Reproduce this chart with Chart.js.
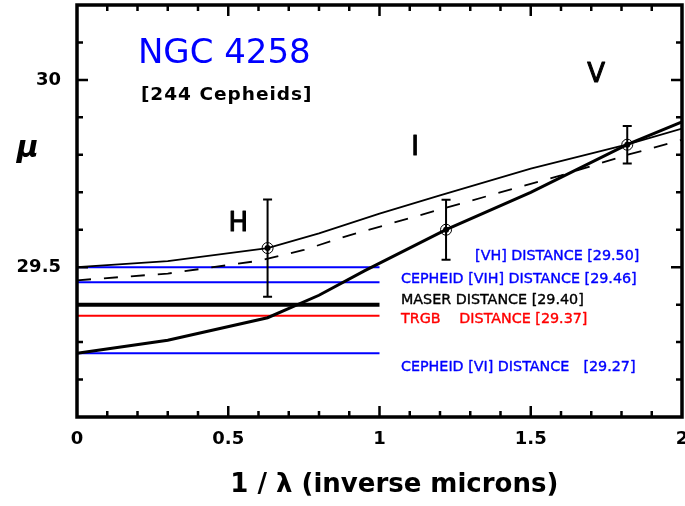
<!DOCTYPE html>
<html lang="en">
<head>
<meta charset="UTF-8">
<title>NGC 4258 distance modulus vs inverse wavelength</title>
<style>
  body { margin: 0; background: #fff; }
  #wrap { width: 685px; height: 506px; }
</style>
<script src="https://cdn.jsdelivr.net/npm/chart.js"></script>
</head>
<body>
<div id="wrap"><canvas id="muChart" width="685" height="506"></canvas></div>
<script>
// apparent distance modulus per band
const bandNames = ['H', 'I', 'V'];
const bandX = [0.630, 1.220, 1.819];
const bandMu = [29.551, 29.600, 29.827];
const bandErr = [0.13, 0.08, 0.05];

// extinction curves through the band points
const thinX = [0, 0.3, 0.63, 0.8, 1.0, 1.2, 1.5, 1.82, 2.0];
const thinMu = [29.500, 29.516, 29.551, 29.590, 29.643, 29.692, 29.763, 29.828, 29.870];

const dashX = [0, 0.3, 0.6, 0.75, 0.9, 1.3, 1.6, 1.82, 2.0];
const dashMu = [29.465, 29.483, 29.517, 29.546, 29.585, 29.677, 29.745, 29.800, 29.840];

const thickX = [0, 0.3, 0.63, 0.8, 0.95, 1.22, 1.5, 1.82, 2.0];
const thickMu = [29.270, 29.305, 29.365, 29.425, 29.490, 29.600, 29.700, 29.828, 29.888];

// distance estimates drawn as short horizontal lines
const distLabels = ['[VH] DISTANCE', 'CEPHEID [VIH] DISTANCE', 'MASER DISTANCE', 'TRGB DISTANCE', 'CEPHEID [VI] DISTANCE'];
const distMu = [29.50, 29.46, 29.40, 29.37, 29.27];
const distSpan = [0, 1];

// axes
const xTicks = [0, 0.5, 1, 1.5, 2];
const xTickLabels = ['0', '0.5', '1', '1.5', '2'];
const yTicks = [29.5, 30];
const yTickLabels = ['29.5', '30'];
const xTitle = '1 / λ (inverse microns)';
const yTitle = 'μ';

const BLUE = '#0000ff';
const RED = '#ff0000';
const FONT = '"DejaVu Sans", sans-serif';

const pts = (xs, ys) => xs.map((x, i) => ({ x: x, y: ys[i] }));

const distColors = [BLUE, BLUE, '#000', RED, BLUE];
const distWidths = [2, 2, 4, 2, 2];

// text drawn over the plot, placed in data units (y is the baseline)
const notes = [
  { text: 'NGC 4258', x: 0.487, y: 30.045, color: BLUE, size: 34, align: 'center' },
  { text: '[244 Cepheids]', x: 0.495, y: 29.947, color: '#000', size: 18.5, align: 'center', spacing: 1, style: 'bold' },
  { text: bandNames[0], x: 0.533, y: 29.596, color: '#000', size: 26, align: 'center', thicken: 1 },
  { text: bandNames[1], x: 1.118, y: 29.799, color: '#000', size: 26, align: 'center', thicken: 1 },
  { text: bandNames[2], x: 1.716, y: 29.995, color: '#000', size: 26, align: 'center', thicken: 1 },
  { text: '[VH] DISTANCE [' + distMu[0].toFixed(2) + ']', x: 1.316, y: 29.519, color: BLUE, size: 14.3, align: 'left', thicken: 0.4 },
  { text: 'CEPHEID [VIH] DISTANCE [' + distMu[1].toFixed(2) + ']', x: 1.071, y: 29.459, color: BLUE, size: 14.3, align: 'left', thicken: 0.4 },
  { text: 'MASER DISTANCE [' + distMu[2].toFixed(2) + ']', x: 1.071, y: 29.401, color: '#000', size: 14.3, align: 'left', thicken: 0.4 },
  { text: 'TRGB', x: 1.071, y: 29.350, color: RED, size: 14.3, align: 'left', thicken: 0.4 },
  { text: 'DISTANCE [' + distMu[3].toFixed(2) + ']', x: 1.264, y: 29.350, color: RED, size: 14.3, align: 'left', thicken: 0.4 },
  { text: 'CEPHEID [VI] DISTANCE', x: 1.071, y: 29.222, color: BLUE, size: 14.3, align: 'left', thicken: 0.4 },
  { text: '[' + distMu[4].toFixed(2) + ']', x: 1.674, y: 29.222, color: BLUE, size: 14.3, align: 'left', thicken: 0.4 },
  { text: yTitle, x: -0.163, y: 29.795, color: '#000', size: 30, align: 'center', style: 'italic bold' },
  { text: xTitle, x: 1.049, y: 28.899, color: '#000', size: 26, align: 'center', style: 'bold' }
];

const datasets = [
  {
    data: pts(bandX, bandMu), showLine: false,
    pointRadius: 3, pointBackgroundColor: '#000', pointBorderWidth: 0
  },
  {
    data: pts(bandX, bandMu), showLine: false,
    pointRadius: 5.5, pointBackgroundColor: 'rgba(0,0,0,0)', pointBorderColor: '#000', pointBorderWidth: 1
  },
  { data: pts(thinX, thinMu), showLine: true, borderColor: '#000', borderWidth: 1.8, pointRadius: 0 },
  { data: pts(dashX, dashMu), showLine: true, borderColor: '#000', borderWidth: 1.8, borderDash: [14, 13], pointRadius: 0 },
  { data: pts(thickX, thickMu), showLine: true, borderColor: '#000', borderWidth: 3, pointRadius: 0 }
];
distMu.forEach((m, i) => {
  datasets.push({
    label: distLabels[i],
    data: distSpan.map(x => ({ x: x, y: m })),
    showLine: true, borderColor: distColors[i], borderWidth: distWidths[i], pointRadius: 0
  });
});

const errorBars = {
  id: 'errorBars',
  afterDatasetsDraw(chart) {
    const { ctx, scales: { x, y } } = chart;
    ctx.save();
    ctx.strokeStyle = '#000';
    ctx.lineWidth = 2;
    bandX.forEach((bx, i) => {
      const px = x.getPixelForValue(bx);
      const top = y.getPixelForValue(bandMu[i] + bandErr[i]);
      const bot = y.getPixelForValue(bandMu[i] - bandErr[i]);
      ctx.beginPath();
      ctx.moveTo(px, top); ctx.lineTo(px, bot);
      ctx.moveTo(px - 4.5, top); ctx.lineTo(px + 4.5, top);
      ctx.moveTo(px - 4.5, bot); ctx.lineTo(px + 4.5, bot);
      ctx.stroke();
    });
    ctx.restore();
  }
};

// closed box with inward ticks on all four sides
const frame = {
  id: 'frame',
  afterDraw(chart) {
    const { ctx, chartArea: a, scales: { x, y } } = chart;
    ctx.save();
    ctx.strokeStyle = '#000';
    ctx.lineWidth = 2.5;
    ctx.beginPath();
    for (let i = 1; i < 20; i++) {
      const px = x.getPixelForValue(i / 10);
      const len = i % 5 === 0 ? 11 : 6;
      ctx.moveTo(px, a.bottom); ctx.lineTo(px, a.bottom - len);
      ctx.moveTo(px, a.top); ctx.lineTo(px, a.top + len);
    }
    for (let i = 292; i < 302; i++) {
      const py = y.getPixelForValue(i / 10);
      const len = i % 5 === 0 ? 11 : 6;
      ctx.moveTo(a.left, py); ctx.lineTo(a.left + len, py);
      ctx.moveTo(a.right, py); ctx.lineTo(a.right - len, py);
    }
    ctx.stroke();
    ctx.lineWidth = 3.5;
    ctx.strokeRect(a.left, a.top, a.right - a.left, a.bottom - a.top);
    ctx.restore();
  }
};

const noteText = {
  id: 'noteText',
  afterDraw(chart) {
    const { ctx, scales: { x, y } } = chart;
    ctx.save();
    ctx.textBaseline = 'alphabetic';
    ctx.lineJoin = 'round';
    notes.forEach(n => {
      const px = x.getPixelForValue(n.x);
      const py = y.getPixelForValue(n.y);
      ctx.font = (n.style ? n.style + ' ' : '') + n.size + 'px ' + FONT;
      ctx.letterSpacing = (n.spacing || 0) + 'px';
      ctx.fillStyle = n.color;
      ctx.textAlign = n.align;
      ctx.fillText(n.text, px, py);
      if (n.thicken) {
        ctx.strokeStyle = n.color;
        ctx.lineWidth = n.thicken;
        ctx.strokeText(n.text, px, py);
      }
    });
    ctx.restore();
  }
};

new Chart(document.getElementById('muChart'), {
  type: 'scatter',
  data: { datasets: datasets },
  options: {
    responsive: false,
    animation: false,
    layout: { autoPadding: false, padding: { top: 5, right: 3, left: 0, bottom: 0 } },
    plugins: { legend: { display: false }, tooltip: { enabled: false } },
    scales: {
      x: {
        type: 'linear', min: 0, max: 2,
        grid: { display: false, drawTicks: false },
        border: { display: false },
        ticks: {
          color: '#000', padding: 12, maxRotation: 0,
          font: { family: FONT, size: 18, weight: 'bold' },
          callback: (v, i) => xTickLabels[i]
        },
        afterBuildTicks: s => { s.ticks = xTicks.map(v => ({ value: v })); },
        afterFit: s => {
          s.height = 89;
          s.paddingLeft = 0; s.paddingRight = 0;
        }
      },
      y: {
        type: 'linear', min: 29.1, max: 30.2,
        grid: { display: false, drawTicks: false },
        border: { display: false },
        ticks: {
          color: '#000', padding: 16,
          font: { family: FONT, size: 18, weight: 'bold' },
          callback: (v, i) => yTickLabels[i]
        },
        afterBuildTicks: s => { s.ticks = yTicks.map(v => ({ value: v })); },
        afterFit: s => {
          s.width = 77;
          s.paddingTop = 0; s.paddingBottom = 0;
        }
      }
    }
  },
  plugins: [errorBars, frame, noteText]
});
</script>
</body>
</html>
